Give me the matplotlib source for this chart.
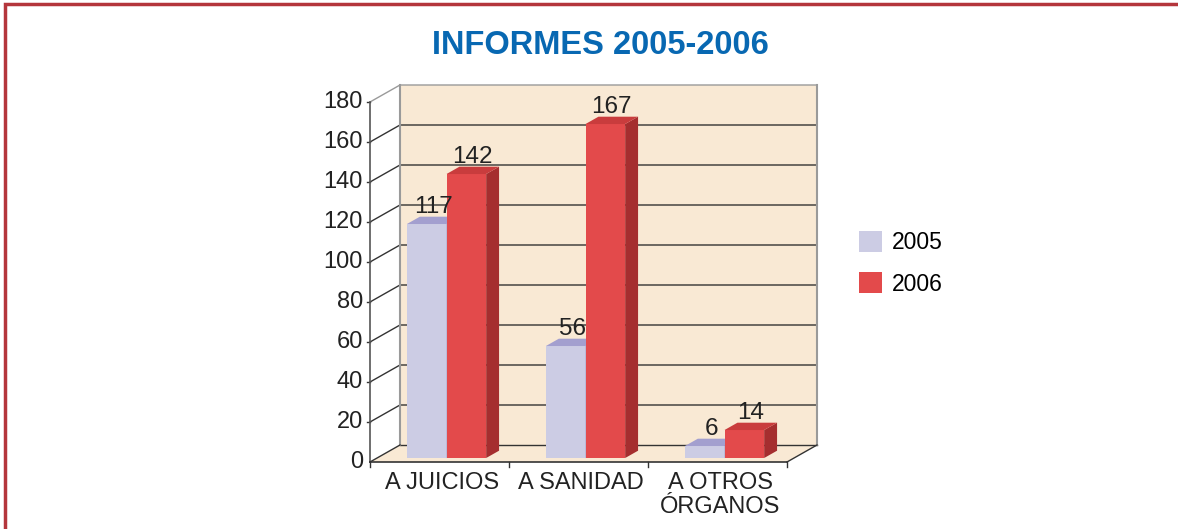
import matplotlib.pyplot as plt
from matplotlib.patches import Polygon, Patch, Rectangle
import numpy as np

plt.rcParams['font.family'] = ['Liberation Sans', 'DejaVu Sans']

# data
categorias = ['A JUICIOS', 'A SANIDAD', 'A OTROS\nÓRGANOS']
valores_2005 = [117, 56, 6]
valores_2006 = [142, 167, 14]
series = ['2005', '2006']
yticks = [0, 20, 40, 60, 80, 100, 120, 140, 160, 180]

# colores
c_front = {'2005': '#cccce4', '2006': '#e34a4b'}
c_top = {'2005': '#a39fcf', '2006': '#c93c3d'}
c_side = {'2005': '#a8a5c9', '2006': '#a52e2f'}
wall = '#f9e9d4'
border_red = '#b4363c'

# 3d pseudo-perspective
W, H = 1178, 529
PX_CAT = 139.0
PX_VAL = 2.0
DX = 30 / PX_CAT    # desplazamiento de profundidad en unidades de categoria
DY = 17 / PX_VAL    # desplazamiento de profundidad en unidades de valor
ZF, ZB = 0.235, 0.665
BW = 0.285
YMAX = 180


def proj(x, y, z):
    return (x + z * DX, y + z * DY)


fig = plt.figure(figsize=(W / 100, H / 100), dpi=100)
ax = fig.add_axes([0, 0, 1, 1])
x0 = -370 / PX_CAT
y0 = -(H - 462) / PX_VAL
ax.set_xlim(x0, x0 + W / PX_CAT)
ax.set_ylim(y0, y0 + H / PX_VAL)
ax.axis('off')

n = len(categorias)

# pared del fondo
back = [proj(0, 0, 1), proj(n, 0, 1), proj(n, YMAX, 1), proj(0, YMAX, 1)]
ax.add_patch(Polygon(back, closed=True, facecolor=wall, edgecolor='none', zorder=1))
# suelo
floor = [proj(0, 0, 0), proj(n, 0, 0), proj(n, 0, 1), proj(0, 0, 1)]
ax.add_patch(Polygon(floor, closed=True, facecolor=wall, edgecolor='none', zorder=1))

# rejilla
for v in yticks[1:]:
    col = '#9a9a9a' if v == YMAX else '#333333'
    a, b, c = proj(0, v, 0), proj(0, v, 1), proj(n, v, 1)
    ax.plot([a[0], b[0], c[0]], [a[1], b[1], c[1]], color=col, lw=1.0, zorder=2)
    ax.plot([-0.025, 0], [v, v], color='#333333', lw=1.0, zorder=2)
# borde fondo del suelo
a, b = proj(0, 0, 1), proj(n, 0, 1)
ax.plot([a[0], b[0]], [a[1], b[1]], color='#333333', lw=1.0, zorder=2)
# aristas grises de la pared
a, b, c = proj(0, 0, 1), proj(0, YMAX, 1), proj(n, YMAX, 1)
ax.plot([a[0], b[0]], [a[1], b[1]], color='#9a9a9a', lw=1.5, zorder=2)
d = proj(n, 0, 1)
ax.plot([c[0], d[0]], [c[1], d[1]], color='#9a9a9a', lw=1.5, zorder=2)
# eje vertical frontal
ax.plot([0, 0], [0, YMAX], color='#555555', lw=1.2, zorder=2)
# aristas del suelo
ax.plot([0, n], [0, 0], color='#333333', lw=1.2, zorder=6)
for xe in [0, n]:
    a, b = proj(xe, 0, 0), proj(xe, 0, 1)
    ax.plot([a[0], b[0]], [a[1], b[1]], color='#333333', lw=1.0, zorder=6)
for i in range(n + 1):
    ax.plot([i, i], [0, -2.5], color='#333333', lw=1.0, zorder=6)

# etiquetas eje y
for v in yticks:
    ax.text(-0.05, v, str(v), ha='right', va='center', fontsize=17, color='#222222')

# etiquetas de categoria
for i, cat in enumerate(categorias):
    ax.text(i + 0.52, -5.0, cat, ha='center', va='top', fontsize=17,
            color='#222222', linespacing=1.12)

# barras
for k, (s, vals) in enumerate([('2005', valores_2005), ('2006', valores_2006)]):
    xs = np.arange(n) + 0.5 - BW + k * BW
    ax.bar(xs + ZF * DX, vals, width=BW, bottom=ZF * DY, align='edge',
           color=c_front[s], edgecolor='none', zorder=3 + k)
    for xl, v in zip(xs, vals):
        xr = xl + BW
        top = [proj(xl, v, ZF), proj(xr, v, ZF), proj(xr, v, ZB), proj(xl, v, ZB)]
        side = [proj(xr, 0, ZF), proj(xr, v, ZF), proj(xr, v, ZB), proj(xr, 0, ZB)]
        ax.add_patch(Polygon(side, closed=True, facecolor=c_side[s], edgecolor='none', zorder=3 + k))
        ax.add_patch(Polygon(top, closed=True, facecolor=c_top[s], edgecolor='none', zorder=3 + k))
        tx, ty = proj(xl + BW / 2, v, (ZF + ZB) / 2)
        ax.text(tx, ty + 1.0, str(v), ha='center', va='bottom', fontsize=17.5,
                color='#222222', zorder=7)

# leyenda
handles = [Patch(facecolor=c_front[s], edgecolor='none') for s in series]
ax.legend(handles, series, loc='upper left', bbox_to_anchor=(859 / W, 1 - 231 / H),
          bbox_transform=fig.transFigure, frameon=False, fontsize=16.5,
          handlelength=1.0, handleheight=1.0, handletextpad=0.45,
          labelspacing=0.8, borderpad=0, borderaxespad=0)

# titulo
fig.text(600 / W, 1 - 45 / H, 'INFORMES 2005-2006', ha='center', va='center',
         fontsize=23.5, fontweight='bold', color='#0868b2')

# marco rojo
fig.add_artist(Rectangle((4.5 / W, -0.1), 1.2, 1 - 4.5 / H + 0.1, transform=fig.transFigure,
                         fill=False, edgecolor=border_red, lw=2.5))

fig.savefig('out.png', dpi=100)
